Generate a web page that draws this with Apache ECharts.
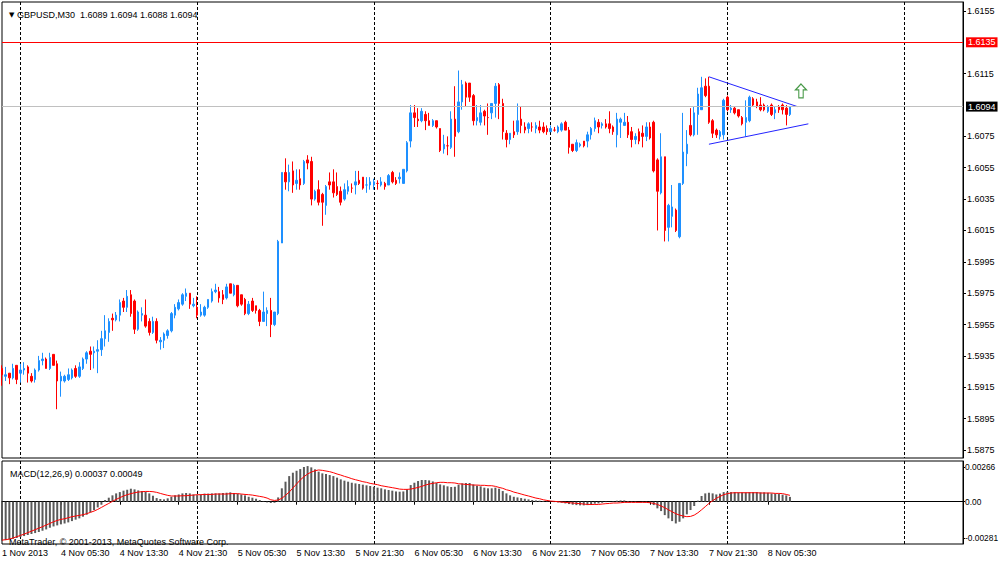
<!DOCTYPE html>
<html>
<head>
<meta charset="utf-8">
<script src="https://cdn.jsdelivr.net/npm/echarts@6/dist/echarts.min.js"></script>
<style>
html, body { margin: 0; padding: 0; background: #fff; }
#chart { width: 1000px; height: 561px; }
</style>
</head>
<body>
<div id="chart"></div>
<script>
// GBPUSD M30, first bar 1 Nov 2013 21:30
var symbolName = 'GBPUSD,M30';
var firstBarUTC = Date.UTC(2013, 10, 1, 21, 30);
var futureSlots = 47;

var opens = [
  1.5927,1.5922,1.5924,1.5921,1.5929,1.5924,1.5926,1.5928,1.5922,1.5920,
  1.5926,1.5932,1.5933,1.5927,1.5936,1.5930,1.5919,1.5919,1.5920,1.5921,
  1.5927,1.5922,1.5927,1.5933,1.5938,1.5937,1.5938,1.5939,1.5946,1.5950,
  1.5959,1.5958,1.5961,1.5970,1.5966,1.5974,1.5970,1.5952,1.5961,1.5961,
  1.5957,1.5950,1.5957,1.5944,1.5945,1.5948,1.5951,1.5961,1.5965,1.5968,
  1.5973,1.5975,1.5967,1.5966,1.5961,1.5961,1.5966,1.5970,1.5976,1.5976,
  1.5974,1.5972,1.5981,1.5974,1.5980,1.5974,1.5971,1.5962,1.5970,1.5967,
  1.5964,1.5957,1.5962,1.5964,1.5955,1.5962,1.6007,1.6052,1.6046,1.6053,
  1.6045,1.6048,1.6045,1.6060,1.6059,1.6035,1.6041,1.6038,1.6031,1.6046,
  1.6046,1.6043,1.6040,1.6035,1.6040,1.6042,1.6044,1.6047,1.6049,1.6044,
  1.6044,1.6044,1.6045,1.6044,1.6045,1.6044,1.6052,1.6047,1.6048,1.6045,
  1.6053,1.6072,1.6090,1.6086,1.6085,1.6089,1.6085,1.6082,1.6085,1.6080,
  1.6067,1.6069,1.6068,1.6086,1.6078,1.6097,1.6109,1.6109,1.6101,1.6085,
  1.6084,1.6091,1.6087,1.6090,1.6096,1.6108,1.6096,1.6077,1.6073,1.6078,
  1.6078,1.6086,1.6081,1.6080,1.6081,1.6080,1.6081,1.6081,1.6080,1.6078,
  1.6079,1.6078,1.6079,1.6084,1.6079,1.6070,1.6066,1.6069,1.6072,1.6072,
  1.6076,1.6080,1.6084,1.6082,1.6083,1.6083,1.6081,1.6076,1.6084,1.6082,
  1.6084,1.6078,1.6073,1.6078,1.6077,1.6075,1.6081,1.6084,1.6060,1.6039,
  1.6062,1.6017,1.6024,1.6028,1.6011,1.6045,1.6064,1.6082,1.6076,1.6089,
  1.6092,1.6107,1.6107,1.6085,1.6079,1.6075,1.6076,1.6100,1.6092,1.6093,
  1.6092,1.6087,1.6084,1.6085,1.6099,1.6097,1.6095,1.6095,1.6091,1.6095,
  1.6090,1.6094,1.6095,1.6093,1.6089
];
var highs = [
  1.5929,1.5928,1.5924,1.5930,1.5929,1.5930,1.5931,1.5929,1.5924,1.5927,
  1.5935,1.5937,1.5934,1.5937,1.5936,1.5932,1.5925,1.5923,1.5927,1.5927,
  1.5929,1.5931,1.5934,1.5938,1.5941,1.5941,1.5945,1.5951,1.5961,1.5959,
  1.5962,1.5963,1.5971,1.5972,1.5977,1.5977,1.5971,1.5964,1.5966,1.5971,
  1.5959,1.5960,1.5959,1.5947,1.5950,1.5952,1.5963,1.5968,1.5971,1.5975,
  1.5978,1.5975,1.5972,1.5973,1.5968,1.5967,1.5971,1.5978,1.5981,1.5979,
  1.5977,1.5981,1.5981,1.5981,1.5980,1.5974,1.5972,1.5970,1.5972,1.5967,
  1.5965,1.5976,1.5966,1.5972,1.5963,1.6009,1.6052,1.6061,1.6057,1.6059,
  1.6054,1.6054,1.6060,1.6063,1.6062,1.6041,1.6047,1.6039,1.6044,1.6052,
  1.6054,1.6052,1.6043,1.6045,1.6047,1.6045,1.6053,1.6053,1.6049,1.6049,
  1.6049,1.6048,1.6047,1.6049,1.6046,1.6051,1.6053,1.6049,1.6052,1.6054,
  1.6072,1.6095,1.6095,1.6093,1.6093,1.6091,1.6090,1.6086,1.6085,1.6080,
  1.6076,1.6075,1.6091,1.6107,1.6117,1.6111,1.6110,1.6109,1.6102,1.6095,
  1.6095,1.6092,1.6096,1.6096,1.6109,1.6109,1.6099,1.6079,1.6077,1.6085,
  1.6096,1.6094,1.6084,1.6084,1.6084,1.6084,1.6085,1.6084,1.6082,1.6082,
  1.6081,1.6082,1.6084,1.6085,1.6081,1.6070,1.6073,1.6071,1.6072,1.6078,
  1.6081,1.6087,1.6086,1.6084,1.6086,1.6091,1.6082,1.6090,1.6087,1.6090,
  1.6088,1.6081,1.6077,1.6080,1.6082,1.6084,1.6084,1.6085,1.6061,1.6077,
  1.6062,1.6032,1.6044,1.6029,1.6045,1.6090,1.6079,1.6093,1.6094,1.6106,
  1.6113,1.6112,1.6113,1.6086,1.6080,1.6079,1.6099,1.6101,1.6095,1.6094,
  1.6092,1.6088,1.6098,1.6101,1.6100,1.6099,1.6100,1.6096,1.6095,1.6096,
  1.6094,1.6095,1.6096,1.6095,1.6094
];
var lows = [
  1.5916,1.5919,1.5917,1.5920,1.5917,1.5918,1.5923,1.5918,1.5918,1.5918,
  1.5925,1.5929,1.5927,1.5926,1.5929,1.5901,1.5909,1.5918,1.5919,1.5920,
  1.5921,1.5921,1.5926,1.5930,1.5926,1.5927,1.5924,1.5935,1.5941,1.5944,
  1.5951,1.5957,1.5957,1.5963,1.5963,1.5960,1.5949,1.5951,1.5957,1.5953,
  1.5948,1.5949,1.5943,1.5939,1.5940,1.5946,1.5950,1.5959,1.5964,1.5967,
  1.5970,1.5965,1.5966,1.5959,1.5960,1.5960,1.5965,1.5969,1.5975,1.5969,
  1.5968,1.5971,1.5975,1.5973,1.5966,1.5967,1.5961,1.5961,1.5963,1.5962,
  1.5954,1.5957,1.5954,1.5947,1.5954,1.5961,1.6007,1.6041,1.6040,1.6039,
  1.6041,1.6041,1.6044,1.6054,1.6031,1.6034,1.6031,1.6018,1.6025,1.6041,
  1.6036,1.6037,1.6031,1.6034,1.6038,1.6039,1.6038,1.6044,1.6041,1.6039,
  1.6041,1.6041,1.6041,1.6043,1.6041,1.6044,1.6045,1.6044,1.6045,1.6045,
  1.6052,1.6068,1.6081,1.6081,1.6084,1.6079,1.6082,1.6081,1.6080,1.6065,
  1.6064,1.6063,1.6067,1.6062,1.6077,1.6092,1.6094,1.6097,1.6082,1.6082,
  1.6082,1.6082,1.6076,1.6086,1.6087,1.6086,1.6073,1.6068,1.6070,1.6074,
  1.6076,1.6077,1.6077,1.6077,1.6078,1.6077,1.6077,1.6077,1.6076,1.6078,
  1.6078,1.6077,1.6078,1.6079,1.6064,1.6065,1.6065,1.6068,1.6068,1.6068,
  1.6073,1.6078,1.6077,1.6080,1.6080,1.6077,1.6076,1.6068,1.6074,1.6082,
  1.6074,1.6068,1.6070,1.6070,1.6068,1.6072,1.6073,1.6052,1.6015,1.6038,
  1.6008,1.6008,1.6017,1.6014,1.6010,1.6044,1.6056,1.6075,1.6075,1.6076,
  1.6092,1.6100,1.6083,1.6074,1.6074,1.6073,1.6073,1.6091,1.6090,1.6089,
  1.6087,1.6082,1.6075,1.6084,1.6094,1.6093,1.6091,1.6091,1.6090,1.6088,
  1.6086,1.6090,1.6089,1.6082,1.6088
];
var closes = [
  1.5923,1.5923,1.5921,1.5927,1.5920,1.5926,1.5927,1.5924,1.5919,1.5926,
  1.5932,1.5933,1.5927,1.5934,1.5929,1.5919,1.5922,1.5922,1.5923,1.5926,
  1.5922,1.5928,1.5933,1.5937,1.5936,1.5938,1.5939,1.5946,1.5951,1.5957,
  1.5958,1.5961,1.5969,1.5966,1.5973,1.5962,1.5952,1.5963,1.5962,1.5954,
  1.5950,1.5957,1.5945,1.5945,1.5949,1.5951,1.5962,1.5966,1.5969,1.5974,
  1.5975,1.5968,1.5968,1.5961,1.5963,1.5966,1.5971,1.5976,1.5977,1.5972,
  1.5971,1.5979,1.5975,1.5980,1.5967,1.5968,1.5962,1.5968,1.5964,1.5964,
  1.5957,1.5963,1.5964,1.5955,1.5963,1.6008,1.6052,1.6046,1.6052,1.6044,
  1.6047,1.6044,1.6059,1.6058,1.6035,1.6040,1.6033,1.6033,1.6043,1.6044,
  1.6039,1.6038,1.6033,1.6041,1.6043,1.6042,1.6046,1.6045,1.6042,1.6044,
  1.6046,1.6046,1.6045,1.6046,1.6043,1.6050,1.6046,1.6045,1.6049,1.6054,
  1.6071,1.6090,1.6087,1.6085,1.6091,1.6085,1.6082,1.6085,1.6081,1.6066,
  1.6070,1.6069,1.6086,1.6075,1.6097,1.6108,1.6100,1.6100,1.6085,1.6087,
  1.6090,1.6088,1.6087,1.6096,1.6107,1.6096,1.6078,1.6073,1.6077,1.6076,
  1.6085,1.6082,1.6079,1.6083,1.6081,1.6082,1.6079,1.6078,1.6078,1.6080,
  1.6079,1.6081,1.6083,1.6079,1.6068,1.6066,1.6071,1.6070,1.6069,1.6076,
  1.6080,1.6085,1.6081,1.6083,1.6081,1.6080,1.6078,1.6086,1.6086,1.6084,
  1.6076,1.6073,1.6075,1.6072,1.6075,1.6081,1.6074,1.6053,1.6040,1.6062,
  1.6015,1.6031,1.6030,1.6015,1.6045,1.6065,1.6070,1.6076,1.6090,1.6102,
  1.6106,1.6101,1.6084,1.6077,1.6076,1.6078,1.6098,1.6092,1.6093,1.6090,
  1.6088,1.6083,1.6087,1.6100,1.6095,1.6094,1.6092,1.6092,1.6094,1.6089,
  1.6092,1.6092,1.6092,1.6089,1.6094
];

// MACD(12,26,9): main (histogram) and signal
var macdMain = [
  -0.00300,-0.00295,-0.00290,-0.00285,-0.00279,-0.00272,-0.00264,-0.00256,-0.00249,-0.00241,
  -0.00233,-0.00223,-0.00213,-0.00200,-0.00190,-0.00182,-0.00174,-0.00167,-0.00159,-0.00149,
  -0.00138,-0.00128,-0.00115,-0.00100,-0.00082,-0.00064,-0.00044,-0.00023,0.00013,0.00031,
  0.00049,0.00064,0.00074,0.00085,0.00092,0.00100,0.00095,0.00087,0.00082,0.00077,
  0.00064,0.00046,0.00028,0.00021,0.00018,0.00026,0.00038,0.00049,0.00056,0.00064,
  0.00067,0.00064,0.00056,0.00051,0.00056,0.00062,0.00062,0.00064,0.00064,0.00064,
  0.00067,0.00069,0.00072,0.00067,0.00062,0.00056,0.00049,0.00038,0.00031,0.00023,
  0.00013,0.00003,-0.00005,-0.00010,-0.00008,0.00033,0.00103,0.00154,0.00197,0.00223,
  0.00238,0.00251,0.00267,0.00274,0.00264,0.00249,0.00231,0.00218,0.00213,0.00205,
  0.00197,0.00185,0.00172,0.00162,0.00154,0.00146,0.00141,0.00136,0.00131,0.00126,
  0.00121,0.00115,0.00108,0.00103,0.00095,0.00090,0.00085,0.00079,0.00077,0.00079,
  0.00095,0.00128,0.00146,0.00159,0.00167,0.00167,0.00164,0.00156,0.00144,0.00133,
  0.00126,0.00118,0.00113,0.00115,0.00131,0.00141,0.00144,0.00144,0.00133,0.00123,
  0.00118,0.00108,0.00103,0.00103,0.00108,0.00100,0.00082,0.00064,0.00049,0.00038,
  0.00033,0.00028,0.00023,0.00018,0.00013,0.00010,0.00008,0.00005,0.00003,0.00000,
  -0.00003,-0.00005,-0.00008,-0.00013,-0.00018,-0.00023,-0.00026,-0.00028,-0.00028,-0.00026,
  -0.00021,-0.00015,-0.00013,-0.00008,-0.00003,0.00000,0.00003,0.00008,0.00010,0.00010,
  0.00005,0.00003,0.00003,0.00000,-0.00003,-0.00005,-0.00008,-0.00026,-0.00051,-0.00072,
  -0.00103,-0.00128,-0.00149,-0.00167,-0.00154,-0.00128,-0.00097,-0.00064,-0.00033,0.00008,
  0.00044,0.00064,0.00069,0.00064,0.00056,0.00062,0.00074,0.00077,0.00074,0.00074,
  0.00072,0.00072,0.00072,0.00074,0.00074,0.00074,0.00072,0.00072,0.00069,0.00064,
  0.00062,0.00059,0.00054,0.00049,0.00037
];
var macdSignal = [
  -0.00295,-0.00292,-0.00287,-0.00279,-0.00269,-0.00259,-0.00249,-0.00238,-0.00226,-0.00215,
  -0.00203,-0.00192,-0.00179,-0.00167,-0.00154,-0.00144,-0.00136,-0.00131,-0.00123,-0.00115,
  -0.00110,-0.00105,-0.00100,-0.00092,-0.00082,-0.00072,-0.00059,-0.00044,-0.00028,-0.00013,
  0.00003,0.00018,0.00031,0.00044,0.00054,0.00062,0.00069,0.00074,0.00077,0.00079,
  0.00079,0.00077,0.00072,0.00064,0.00056,0.00049,0.00044,0.00044,0.00044,0.00046,
  0.00046,0.00049,0.00051,0.00054,0.00054,0.00056,0.00056,0.00056,0.00059,0.00059,
  0.00059,0.00059,0.00062,0.00062,0.00062,0.00059,0.00056,0.00054,0.00051,0.00046,
  0.00041,0.00036,0.00028,0.00015,0.00010,0.00013,0.00026,0.00049,0.00074,0.00105,
  0.00136,0.00167,0.00192,0.00213,0.00228,0.00238,0.00244,0.00241,0.00236,0.00231,
  0.00223,0.00213,0.00205,0.00195,0.00187,0.00177,0.00169,0.00162,0.00154,0.00149,
  0.00141,0.00136,0.00131,0.00123,0.00118,0.00113,0.00108,0.00103,0.00097,0.00095,
  0.00095,0.00097,0.00103,0.00110,0.00118,0.00128,0.00136,0.00141,0.00146,0.00149,
  0.00149,0.00146,0.00146,0.00144,0.00138,0.00136,0.00133,0.00131,0.00128,0.00128,
  0.00126,0.00126,0.00123,0.00123,0.00118,0.00110,0.00103,0.00092,0.00085,0.00074,
  0.00067,0.00059,0.00051,0.00044,0.00036,0.00028,0.00023,0.00015,0.00010,0.00005,
  0.00003,0.00000,-0.00003,-0.00005,-0.00008,-0.00010,-0.00013,-0.00015,-0.00018,-0.00021,
  -0.00021,-0.00021,-0.00021,-0.00018,-0.00015,-0.00013,-0.00010,-0.00010,-0.00008,-0.00005,
  -0.00005,-0.00005,-0.00005,-0.00005,-0.00005,-0.00005,-0.00008,-0.00013,-0.00021,-0.00033,
  -0.00046,-0.00062,-0.00077,-0.00092,-0.00103,-0.00110,-0.00115,-0.00113,-0.00103,-0.00085,
  -0.00062,-0.00038,-0.00013,0.00008,0.00026,0.00041,0.00054,0.00062,0.00067,0.00069,
  0.00069,0.00069,0.00069,0.00069,0.00069,0.00069,0.00067,0.00067,0.00067,0.00067,
  0.00064,0.00064,0.00062,0.00056,0.00049
];

// chart objects drawn on the price panel: [bar index, price]
var resistanceLevel = 1.6135;
var triangleUpper = [[192, 1.6113], [216, 1.6094]];
var triangleLower = [[192, 1.6070], [219, 1.6083]];
var arrowUp = [[217, 1.6104]];

// axis ranges and tick labels
var priceMin = 1.58699, priceMax = 1.61607;
var priceTicks = [1.5875, 1.5895, 1.5915, 1.5935, 1.5955, 1.5975, 1.5995, 1.6015,
                  1.6035, 1.6055, 1.6075, 1.6115, 1.6155];
var macdMin = -0.00325, macdMax = 0.00313;
var macdTicks = [-0.00281, 0, 0.00266];
var labelStep = 16;

var FONT = "'Liberation Sans', Arial, sans-serif";
var FS = 9;
var MONTHS = ['Jan','Feb','Mar','Apr','May','Jun','Jul','Aug','Sep','Oct','Nov','Dec'];

function pad(n) { return n < 10 ? '0' + n : '' + n; }

// bar times, weekend skipped inside the history only
var barCount = closes.length;
var times = [];
var t = firstBarUTC;
for (var i = 0; i < barCount + futureSlots; i++) {
  var d = new Date(t);
  times.push(d.getUTCDate() + ' ' + MONTHS[d.getUTCMonth()] + ' ' + pad(d.getUTCHours()) + ':' + pad(d.getUTCMinutes()));
  t += 30 * 60000;
  if (i < barCount - 1) {
    while (new Date(t).getUTCDay() === 0 || new Date(t).getUTCDay() === 6) t += 30 * 60000;
  }
}
var firstDate = new Date(firstBarUTC);
var firstLabel = firstDate.getUTCDate() + ' ' + MONTHS[firstDate.getUTCMonth()] + ' ' + firstDate.getUTCFullYear();

var candles = [];
for (var k = 0; k < barCount; k++) {
  candles.push([opens[k], closes[k], lows[k], highs[k]]);
}
var last = barCount - 1;

function showLabel(idx) { return idx % labelStep === 0 && idx < barCount; }
function isDayStart(idx, value) { return / 00:00$/.test(value); }

var sepLine = {
  show: true,
  interval: isDayStart,
  lineStyle: { color: '#000', width: 1, type: [3, 2] }
};

var smallText = { fontSize: FS, fontWeight: 'normal', color: '#000', fontFamily: FONT };

function boxLabel(bg) {
  return {
    position: 'end', distance: 3, color: '#fff', backgroundColor: bg,
    padding: [1, 2, 0, 2], fontSize: FS, fontFamily: FONT,
    formatter: function (p) { return Number(p.value).toFixed(4); }
  };
}

var chart = echarts.init(document.getElementById('chart'), null, { renderer: 'svg' });
chart.setOption({
  animation: false,
  backgroundColor: '#fff',
  textStyle: { fontFamily: FONT },
  title: [
    {
      text: '{tri|▼} ' + symbolName + '  ' + [opens[last], highs[last], lows[last], closes[last]].map(function (v) { return v.toFixed(4); }).join(' '),
      left: 4, top: 5,
      textStyle: Object.assign({}, smallText, { rich: { tri: { fontSize: 7, fontFamily: 'DejaVu Sans', color: '#000' } } })
    },
    {
      text: 'MACD(12,26,9) ' + macdMain[last].toFixed(5) + ' ' + macdSignal[last].toFixed(5),
      left: 5, top: 464, textStyle: smallText
    },
    {
      text: 'MetaTrader, © 2001-2013, MetaQuotes Software Corp.',
      left: 4, top: 532, textStyle: smallText
    }
  ],
  grid: [
    { left: 2, right: 37, top: 2, height: 456, outerBoundsMode: 'none', containLabel: false,
      show: true, borderColor: '#000', borderWidth: 1, backgroundColor: '#fff' },
    { left: 2, right: 37, top: 461, height: 83, outerBoundsMode: 'none', containLabel: false,
      show: true, borderColor: '#000', borderWidth: 1, backgroundColor: '#fff' }
  ],
  xAxis: [
    {
      type: 'category', gridIndex: 0, data: times, boundaryGap: false,
      axisLine: { show: false }, axisTick: { show: false }, axisLabel: { show: false },
      splitLine: sepLine
    },
    {
      type: 'category', gridIndex: 1, data: times, boundaryGap: false,
      axisLine: { show: true, lineStyle: { color: '#000' } },
      axisTick: { show: true, interval: showLabel, length: 3, lineStyle: { color: '#000' } },
      axisLabel: {
        interval: showLabel, align: 'left', margin: 4,
        fontSize: FS, color: '#000', fontFamily: FONT,
        formatter: function (value, idx) { return idx === 0 ? firstLabel : value; }
      },
      splitLine: sepLine
    }
  ],
  yAxis: [
    {
      type: 'value', gridIndex: 0, position: 'right', min: priceMin, max: priceMax,
      axisLine: { show: true, lineStyle: { color: '#000' } },
      axisTick: { show: true, customValues: priceTicks, length: 3, lineStyle: { color: '#000' } },
      axisLabel: {
        customValues: priceTicks, margin: 4, fontSize: FS, color: '#000', fontFamily: FONT,
        formatter: function (v) { return v.toFixed(4); }
      },
      splitLine: { show: false }
    },
    {
      type: 'value', gridIndex: 1, position: 'right', min: macdMin, max: macdMax,
      axisLine: { show: true, lineStyle: { color: '#000' } },
      axisTick: { show: true, customValues: macdTicks, length: 2, lineStyle: { color: '#000' } },
      axisLabel: {
        customValues: macdTicks, margin: 2, fontSize: 8.4, color: '#000', fontFamily: FONT,
        formatter: function (v) { return v === 0 ? '0.00' : v.toFixed(5); }
      },
      splitLine: { show: false }
    }
  ],
  series: [
    {
      name: symbolName,
      type: 'candlestick',
      xAxisIndex: 0, yAxisIndex: 0,
      data: candles,
      barWidth: 2,
      itemStyle: {
        color: '#1e90ff', color0: '#ff0000',
        borderColor: '#1e90ff', borderColor0: '#ff0000',
        borderWidth: 1
      },
      markLine: {
        silent: true,
        precision: 4,
        symbol: ['none', 'none'],
        data: [
          { yAxis: resistanceLevel, lineStyle: { color: '#ff0000', width: 1, type: 'solid' }, label: boxLabel('#ff0000') },
          { yAxis: closes[last], lineStyle: { color: '#c0c0c0', width: 1, type: 'solid' }, label: boxLabel('#000') }
        ]
      }
    },
    {
      type: 'line', xAxisIndex: 0, yAxisIndex: 0,
      data: triangleUpper, symbol: 'none', silent: true,
      lineStyle: { color: '#2323ff', width: 1 }
    },
    {
      type: 'line', xAxisIndex: 0, yAxisIndex: 0,
      data: triangleLower, symbol: 'none', silent: true,
      lineStyle: { color: '#2323ff', width: 1 }
    },
    {
      type: 'scatter', xAxisIndex: 0, yAxisIndex: 0,
      data: arrowUp, silent: true,
      symbol: 'path://M5,0 L10,6 L7,6 L7,14 L3,14 L3,6 L0,6 Z',
      symbolSize: [11, 14],
      itemStyle: { color: '#fff', borderColor: '#1a7f1a', borderWidth: 1.2 }
    },
    {
      name: 'MACD',
      type: 'bar', xAxisIndex: 1, yAxisIndex: 1,
      data: macdMain, barWidth: 2,
      itemStyle: { color: '#5a5a5a' }
    },
    {
      name: 'Signal',
      type: 'line', xAxisIndex: 1, yAxisIndex: 1,
      data: macdSignal, symbol: 'none',
      lineStyle: { color: '#ff0000', width: 1 }
    }
  ]
});
</script>
</body>
</html>
